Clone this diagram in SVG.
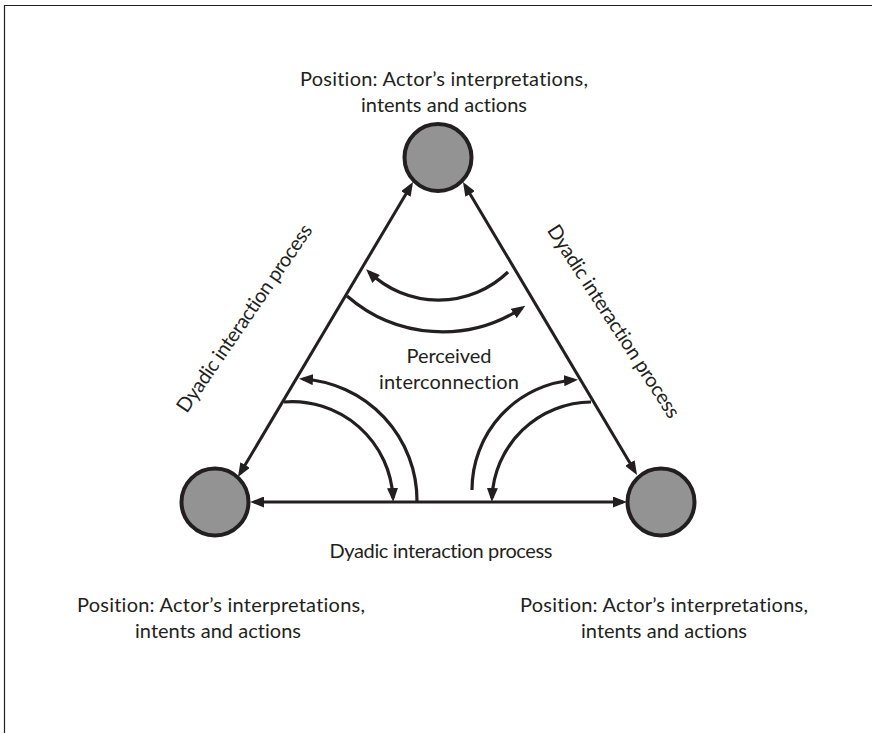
<svg xmlns="http://www.w3.org/2000/svg" width="872" height="733" viewBox="0 0 872 733">
  <style>
    .bg { fill: #ffffff; }
    .frame { fill: none; stroke: #231f20; stroke-width: 1.2; }
    .node { fill: #939393; stroke: #231f20; stroke-width: 4; }
    .edge { fill: none; stroke: #231f20; stroke-width: 3; }
    .arc { fill: none; stroke: #231f20; stroke-width: 3.2; }
    .lbl { font-family: Lato, "Open Sans", "Liberation Sans", sans-serif; font-size: 20px; fill: #231f20; text-anchor: middle; font-variant-ligatures: none; }
  </style>
  <defs>
    <marker id="ah" markerUnits="userSpaceOnUse" markerWidth="14" markerHeight="11" viewBox="0 0 14 11" refX="10" refY="5.5" orient="auto-start-reverse">
      <path d="M0,0 L14,5.5 L0,11 z" fill="#231f20"/>
    </marker>
  </defs>
  <rect class="bg" x="0" y="0" width="872" height="733"/>
  <path class="frame" d="M4.5,733 L4.5,5.5 L872,5.5"/>

  <g id="connectors">
    <line class="edge" x1="411" y1="185.4" x2="240" y2="473.6" marker-start="url(#ah)" marker-end="url(#ah)"/>
    <line class="edge" x1="465" y1="185.4" x2="635" y2="471.6" marker-start="url(#ah)" marker-end="url(#ah)"/>
    <line class="edge" x1="254" y1="502" x2="623" y2="502" marker-start="url(#ah)" marker-end="url(#ah)"/>
    <path class="arc" d="M508,272 A100,100 0 0 1 369,272" marker-end="url(#ah)"/>
    <path class="arc" d="M347,296 A145,145 0 0 0 522,308" marker-end="url(#ah)"/>
    <path class="arc" d="M417,501 A122,122 0 0 0 303,379" marker-end="url(#ah)"/>
    <path class="arc" d="M284,402 A101,101 0 0 1 393,498" marker-end="url(#ah)"/>
    <path class="arc" d="M472,490 A110,110 0 0 1 574,380" marker-end="url(#ah)"/>
    <path class="arc" d="M591,402 A100,100 0 0 0 492,498" marker-end="url(#ah)"/>
  </g>

  <g id="node-top">
    <circle class="node" cx="438" cy="157.5" r="33.5"/>
    <text class="lbl" x="444" y="86" textLength="288" lengthAdjust="spacing">Position: Actor’s interpretations,</text>
    <text class="lbl" x="444" y="112" textLength="166" lengthAdjust="spacing">intents and actions</text>
  </g>
  <g id="node-left">
    <circle class="node" cx="215" cy="502" r="33.5"/>
    <text class="lbl" x="221" y="612" textLength="288" lengthAdjust="spacing">Position: Actor’s interpretations,</text>
    <text class="lbl" x="218" y="638" textLength="166" lengthAdjust="spacing">intents and actions</text>
  </g>
  <g id="node-right">
    <circle class="node" cx="661" cy="502" r="33.5"/>
    <text class="lbl" x="664" y="612" textLength="288" lengthAdjust="spacing">Position: Actor’s interpretations,</text>
    <text class="lbl" x="664" y="638" textLength="166" lengthAdjust="spacing">intents and actions</text>
  </g>

  <g id="labels">
    <text class="lbl" x="441" y="558" textLength="223" lengthAdjust="spacing">Dyadic interaction process</text>
    <text class="lbl" transform="translate(250,322) rotate(-55.5)" textLength="223" lengthAdjust="spacing">Dyadic interaction process</text>
    <text class="lbl" transform="translate(608,325) rotate(57)" textLength="226" lengthAdjust="spacing">Dyadic interaction process</text>
    <text class="lbl" x="449" y="363" textLength="85" lengthAdjust="spacing">Perceived</text>
    <text class="lbl" x="449" y="389" textLength="140" lengthAdjust="spacing">interconnection</text>
  </g>
</svg>
